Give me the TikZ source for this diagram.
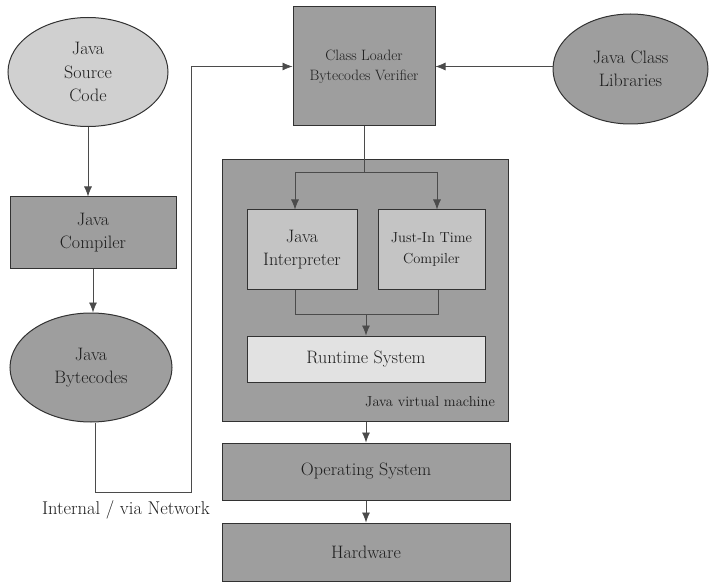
\documentclass[tikz,border=0pt]{standalone}
\usetikzlibrary{shapes.geometric,arrows.meta}
\definecolor{darkfill}{RGB}{158,158,158}
\definecolor{midfill}{RGB}{196,196,196}
\definecolor{lightfill}{RGB}{226,226,226}
\definecolor{edgecol}{RGB}{50,50,50}
\definecolor{txtcol}{RGB}{30,30,30}
\definecolor{linecol}{RGB}{75,75,75}
\begin{document}
\begin{tikzpicture}[x=1pt,y=-1pt,
  base/.style={draw=edgecol,line width=1pt,text=txtcol,align=center,inner sep=0pt,
    font=\fontsize{18}{23.5}\selectfont},
  darkbox/.style={base,rectangle,fill=darkfill},
  midbox/.style={base,rectangle,fill=midfill},
  lightbox/.style={base,rectangle,fill=lightfill},
  darkell/.style={base,ellipse,fill=darkfill},
  lightell/.style={base,ellipse,fill=midfill!80!white},
  conn/.style={draw=linecol,line width=0.7pt},
  arr/.style={conn,-{Latex[length=10pt,width=8pt]}}
]
\useasboundingbox (0,0) rectangle (710,583);

% left column
\node[lightell,minimum width=160pt,minimum height=109pt] (src) at (88,72) {Java\\Source\\Code};
\node[darkbox,minimum width=166pt,minimum height=71pt] (comp) at (93,232.5) {Java\\Compiler};
\node[darkell,minimum width=162pt,minimum height=109pt] (bc) at (91,367.5) {Java\\Bytecodes};

% class loader and libraries
\node[darkbox,minimum width=142pt,minimum height=119pt,font=\fontsize{15}{20}\selectfont] (cl) at (364,66.5) {Class Loader\\Bytecodes Verifier};
\node[darkell,minimum width=155pt,minimum height=110pt] (lib) at (630.5,69) {Java Class\\Libraries};

% JVM
\node[darkbox,minimum width=286pt,minimum height=261pt] (jvm) at (365,290.5) {};
\node[midbox,minimum width=110pt,minimum height=79pt] (interp) at (302,249.5) {Java\\Interpreter};
\node[midbox,minimum width=107pt,minimum height=79pt,font=\fontsize{14.5}{21}\selectfont] (jit) at (431.5,249.5) {Just-In Time\\Compiler};
\node[lightbox,minimum width=238pt,minimum height=46pt] (rt) at (366,359) {Runtime System};
\node[anchor=east,text=txtcol,inner sep=0pt,font=\fontsize{14.5}{18}\selectfont] (jvml) at (495,402) {Java virtual machine};

% OS and hardware
\node[darkbox,minimum width=288pt,minimum height=57pt] (os) at (366,471.5) {Operating System};
\node[darkbox,minimum width=288pt,minimum height=58pt] (hw) at (366,552) {Hardware};

\node[text=txtcol,inner sep=0pt,font=\fontsize{18.5}{22}\selectfont] (net) at (126,510) {Internal / via Network};

% connectors
\draw[arr] (src.south) -- (src.south |- comp.north);
\draw[arr] (comp.south) -- (bc.north -| comp.south);

\coordinate (n1) at (191,492);
\coordinate (n0) at (95,492);
\draw[arr] (bc.south -| n0) -- (n0) -- (n1) |- (cl.west);
\draw[arr] (lib.west |- cl.east) -- (cl.east);

\coordinate (sl) at (295,172);
\coordinate (sr) at (437,172);
\draw[conn] (cl.south) -- (cl.south |- sl);
\draw[conn] (sl) -- (sr);
\draw[arr] (sl) -- (sl |- interp.north);
\draw[arr] (sr) -- (sr |- jit.north);

\coordinate (ml) at (295,314);
\coordinate (mr) at (438,314);
\draw[conn] (ml |- interp.south) -- (ml) -- (mr) -- (mr |- jit.south);
\draw[arr] (rt.north |- ml) -- (rt.north);

\draw[arr] (os.north |- jvm.south) -- (os.north);
\draw[arr] (os.south) -- (hw.north);
\end{tikzpicture}
\end{document}
